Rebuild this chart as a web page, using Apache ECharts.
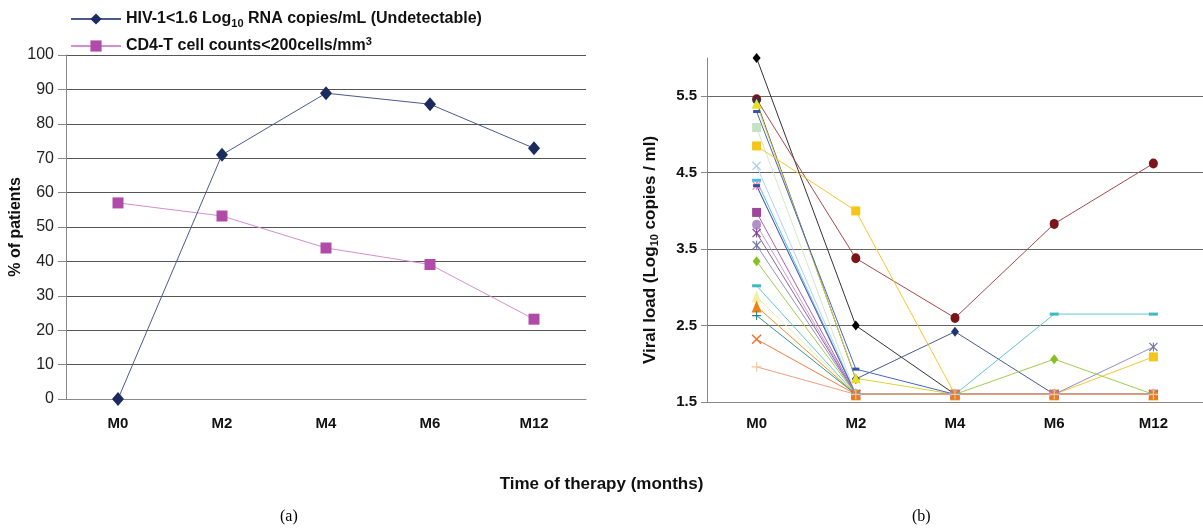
<!DOCTYPE html>
<html><head><meta charset="utf-8">
<script src="https://cdn.jsdelivr.net/npm/echarts@6/dist/echarts.min.js"></script>
<style>html,body{margin:0;padding:0;background:#fff}#c{width:1203px;height:530px}</style>
</head><body><div id="c"></div>
<script>
// ---- data ----
const months = ['M0', 'M2', 'M4', 'M6', 'M12'];
const percentTicks = [0, 10, 20, 30, 40, 50, 60, 70, 80, 90, 100];
const hivUndetectable = [0, 71, 88.9, 85.7, 72.9];
const cd4Below200 = [57, 53.2, 43.9, 39.1, 23.2];
const viralTicks = [1.5, 2.5, 3.5, 4.5, 5.5];
// viral load (log10 copies/ml) per patient, M0..M12
const p01 = [6.0, 2.5, 1.6, 1.6, 1.6];
const p02 = [5.46, 3.38, 2.6, 3.83, 4.62];
const p03 = [5.43, 1.8, 2.42, 1.6, 1.6];
const p04 = [5.40, 1.81, 1.6, 1.6, 1.6];
const p05 = [5.30, 1.93, 1.6, 1.6, 1.6];
const p06 = [5.09, 1.6, 1.6, 1.6, 1.6];
const p07 = [4.85, 4.0, 1.6, 1.6, 2.09];
const p08 = [4.59, 1.6, 1.6, 1.6, 1.6];
const p09 = [4.40, 1.6, 1.6, 1.6, 1.6];
const p10 = [4.33, 1.6, 1.6, 1.6, 1.6];
const p11 = [4.33, 1.6, 1.6, 1.6, 1.6];
const p12 = [3.98, 1.6, 1.6, 1.6, 1.6];
const p13 = [3.82, 1.6, 1.6, 1.6, 1.6];
const p14 = [3.71, 1.6, 1.6, 1.6, 1.6];
const p15 = [3.55, 1.6, 1.6, 1.6, 2.22];
const p16 = [3.34, 1.6, 1.6, 2.06, 1.6];
const p17 = [3.02, 1.6, 1.6, 2.65, 2.65];
const p18 = [2.88, 1.6, 1.6, 1.6, 1.6];
const p19 = [2.75, 1.6, 1.6, 1.6, 1.6];
const p20 = [2.63, 1.6, 1.6, 1.6, 1.6];
const p21 = [2.32, 1.6, 1.6, 1.6, 1.6];
const p22 = [1.96, 1.6, 1.6, 1.6, 1.6];
const patients = [p01,p02,p03,p04,p05,p06,p07,p08,p09,p10,p11,p12,p13,p14,p15,p16,p17,p18,p19,p20,p21,p22];

// ---- styles ----
const X = 'path://M0,1L1,0L5,4L9,0L10,1L6,5L10,9L9,10L5,6L1,10L0,9L4,5Z';
const PLUS = 'path://M4.4,0H5.6V4.4H10V5.6H5.6V10H4.4V5.6H0V4.4H4.4Z';
const STAR = 'path://M0,1L1,0L5,4L9,0L10,1L6,5L10,9L9,10L5,6L1,10L0,9L4,5Z M4.4,0H5.6V10H4.4Z';
const patientStyles = [
  {c:'#000000', l:'#333333', s:'diamond', z:[8,10]},
  {c:'#7a1418', l:'#a04a4e', s:'circle', z:[9,10]},
  {c:'#1f3570', l:'#4a5a8a', s:'diamond', z:[8,10]},
  {c:'#e8e020', l:'#dcd43a', s:'triangle', z:[10,10]},
  {c:'#3355b0', l:'#4468c0', s:'rect', z:[7,3]},
  {c:'#c6e0c0', l:'#d2e8cc', s:'rect', z:[9,9]},
  {c:'#f5c518', l:'#f5c830', s:'rect', z:[9,9]},
  {c:'#a8ccee', l:'#b4d2f0', s:X, z:[9,9]},
  {c:'#40c0e8', l:'#50c4ec', s:'rect', z:[9,3]},
  {c:'#f090c0', l:'#f0a0c8', s:STAR, z:[9,9]},
  {c:'#3050a0', l:'#4060b0', s:'rect', z:[7,3]},
  {c:'#a04898', l:'#b060a8', s:'rect', z:[9,9]},
  {c:'#b090c8', l:'#c0a0d4', s:'circle', z:[9,10]},
  {c:'#804890', l:'#9060a0', s:STAR, z:[9,9]},
  {c:'#7878a8', l:'#9090c0', s:STAR, z:[9,9]},
  {c:'#88c020', l:'#a0cc50', s:'diamond', z:[8,10]},
  {c:'#40b8c0', l:'#60c8d0', s:'rect', z:[9,3]},
  {c:'#f0f0a0', l:'#f0f0a8', s:'triangle', z:[10,12]},
  {c:'#f08010', l:'#f09030', s:'triangle', z:[10,12]},
  {c:'#2a8080', l:'#3a9090', s:PLUS, z:[9,9]},
  {c:'#f07030', l:'#f08040', s:X, z:[10,10]},
  {c:'#f8c8a0', l:'#f0a080', s:PLUS, z:[10,10]}
];

const bold = {fontFamily:'Liberation Sans, Arial, sans-serif', fontWeight:'bold', color:'#111'};
const chart = echarts.init(document.getElementById('c'), null, {renderer:'canvas'});

const rightSeries = patients.map((d, i) => ({
  name: 'Patient ' + (i + 1),
  type: 'line', xAxisIndex: 1, yAxisIndex: 1,
  data: d,
  symbol: patientStyles[i].s, symbolSize: patientStyles[i].z,
  showAllSymbol: true,
  itemStyle: {color: patientStyles[i].c},
  lineStyle: {color: patientStyles[i].l, width: 1},
  emphasis: {disabled: true}, animation: false, z: 3
}));

const option = {
  backgroundColor: '#fff',
  animation: false,
  legend: {
    data: ['HIV', 'CD4'],
    orient: 'vertical', left: 65, top: 6,
    itemWidth: 50, itemHeight: 14, itemGap: 7,
    formatter: n => n === 'HIV'
      ? '{b|HIV-1<1.6 Log}{s|10}{b| RNA copies/mL (Undetectable)}'
      : '{b|CD4-T cell counts<200cells/mm}{p|3}',
    textStyle: {
      rich: {
        b: Object.assign({fontSize: 16, lineHeight: 20, verticalAlign: 'middle'}, bold),
        s: Object.assign({fontSize: 11, lineHeight: 11, verticalAlign: 'bottom'}, bold),
        p: Object.assign({fontSize: 11, lineHeight: 11, verticalAlign: 'top'}, bold)
      }
    }
  },
  title: {
    text: 'Time of therapy (months)', left: 'center', top: 471,
    textStyle: Object.assign({fontSize: 17}, bold)
  },
  graphic: [
    {type:'text', left: 280, top: 509, style:{text:'(a)', font:'16px "Liberation Serif", serif', fill:'#000'}},
    {type:'text', left: 912, top: 509, style:{text:'(b)', font:'16px "Liberation Serif", serif', fill:'#000'}}
  ],
  grid: [
    {left: 66, top: 55, width: 520, height: 344},
    {left: 707, top: 58, width: 496, height: 344}
  ],
  xAxis: [
    {type:'category', gridIndex:0, data: months, boundaryGap: true,
     axisLine:{lineStyle:{color:'#888', width:1}},
     axisTick:{length:10, lineStyle:{color:'#888'}},
     axisLabel: Object.assign({fontSize:15, margin:17}, bold)},
    {type:'category', gridIndex:1, data: months, boundaryGap: true,
     axisLine:{lineStyle:{color:'#888', width:1}},
     axisTick:{length:7, lineStyle:{color:'#888'}},
     axisLabel: Object.assign({fontSize:15, margin:14}, bold)}
  ],
  yAxis: [
    {type:'value', gridIndex:0, min: percentTicks[0], max: percentTicks[percentTicks.length-1], interval: 10,
     name: '% of patients', nameLocation:'middle', nameGap: 35, nameRotate: 90,
     nameTextStyle: Object.assign({fontSize:16}, bold),
     axisLine:{show:true, lineStyle:{color:'#888'}},
     axisTick:{show:true, length:8, lineStyle:{color:'#888'}},
     axisLabel:{fontSize:16, margin:12, color:'#222', fontFamily:'Liberation Sans, Arial, sans-serif'},
     splitLine:{lineStyle:{color:'#555', width:1}}},
    {type:'value', gridIndex:1, min: 1.5, max: 6.0,
     name: '{b|Viral load (Log}{s|10}{b| copies / ml)}', nameLocation:'middle', nameGap: 47, nameRotate: 90,
     nameTextStyle: {padding:[0,40,0,0], rich:{
        b: Object.assign({fontSize: 17, lineHeight: 20, verticalAlign:'middle'}, bold),
        s: Object.assign({fontSize: 11, lineHeight: 11, verticalAlign:'bottom'}, bold)}},
     axisLine:{show:true, lineStyle:{color:'#888'}},
     axisTick:{show:true, length:6, lineStyle:{color:'#888'}, customValues: viralTicks},
     axisLabel: Object.assign({fontSize:15, margin:10, customValues: viralTicks, formatter: v => v.toFixed(1)}, bold),
     splitLine:{lineStyle:{color:'#666', width:1}}}
  ],
  series: [
    {name:'CD4', type:'line', xAxisIndex:0, yAxisIndex:0, data: cd4Below200,
     symbol:'rect', symbolSize: 11, itemStyle:{color:'#b04ba8'}, lineStyle:{color:'#d38fce', width:1}, z:3},
    {name:'HIV', type:'line', xAxisIndex:0, yAxisIndex:0, data: hivUndetectable,
     symbol:'diamond', symbolSize: [12,14], itemStyle:{color:'#1c2b5e'}, lineStyle:{color:'#4b5a8c', width:1}, z:4,
     clip:false}
  ].concat(rightSeries)
};
chart.setOption(option);
</script></body></html>
